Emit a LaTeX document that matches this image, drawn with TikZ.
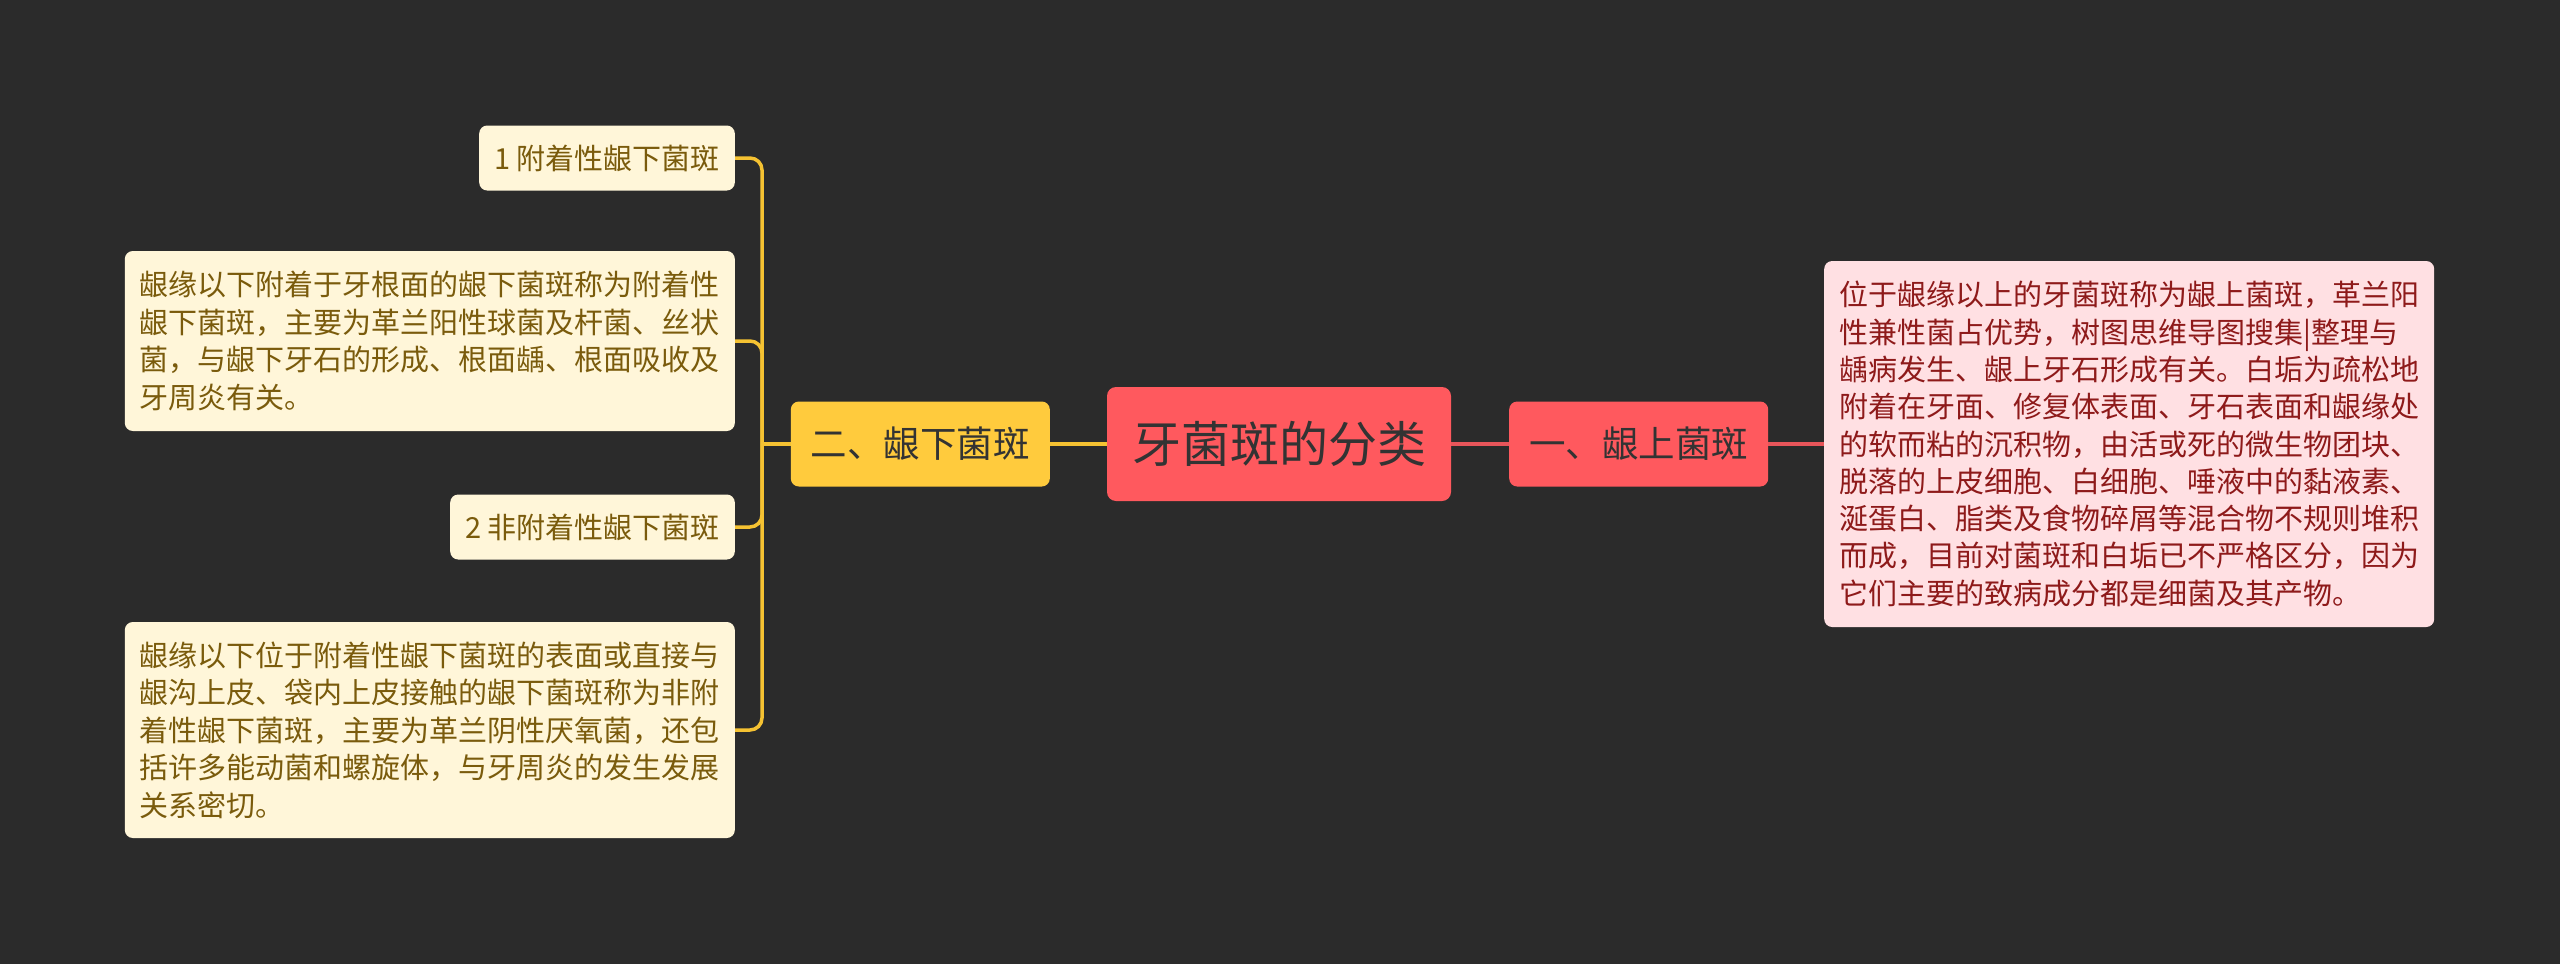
\documentclass[tikz,border=0pt]{standalone}
\usepackage{fontspec}
\setmainfont{Noto Sans CJK SC}
\definecolor{bg}{HTML}{2B2B2B}
\definecolor{rootc}{HTML}{FF595E}
\definecolor{yel}{HTML}{FFCB3D}
\definecolor{cream}{HTML}{FFF6D9}
\definecolor{pinkc}{HTML}{FFE0E3}
\definecolor{browntext}{HTML}{7A5B0C}
\definecolor{redtext}{HTML}{8E1A1A}
\definecolor{darktext}{HTML}{333333}
\definecolor{ylinec}{HTML}{F5C232}
\definecolor{rlinec}{HTML}{E8555A}
\begin{document}
\begin{tikzpicture}[x=1pt,y=-1pt,
  rootbox/.style={fill=rootc, rounded corners=9pt, text=darktext, font=\fontsize{49}{56}\selectfont, minimum height=114pt, inner xsep=25pt, inner ysep=0pt},
  ybranch/.style={fill=yel, rounded corners=8pt, text=darktext, font=\fontsize{36.5}{42}\selectfont, minimum height=85pt, inner xsep=20pt, inner ysep=0pt},
  rbranch/.style={fill=rootc, rounded corners=8pt, text=darktext, font=\fontsize{36.5}{42}\selectfont, minimum height=85pt, inner xsep=20pt, inner ysep=0pt},
  yleaf/.style={fill=cream, rounded corners=8pt, text=browntext, font=\fontsize{29}{37.5}\selectfont, align=left, inner xsep=15pt, inner ysep=0pt},
  rleaf/.style={fill=pinkc, rounded corners=8pt, text=redtext, font=\fontsize{29}{37.3}\selectfont, align=left, inner xsep=15pt, inner ysep=0pt},
  ylink/.style={draw=ylinec, line width=3.5pt},
  rlink/.style={draw=rlinec, line width=3.5pt}
]
\fill[bg] (0,0) rectangle (2560,964);
\useasboundingbox (0,0) rectangle (2560,964);

\node[rootbox] (root) at (1279,444) {牙菌斑的分类};
\node[ybranch, anchor=east] (b2) at (1050,444) {二、龈下菌斑};
\node[rbranch, anchor=west] (b1) at (1509,444) {一、龈上菌斑};

\node[yleaf, anchor=east, minimum height=65pt] (c1) at (735,158) {1 附着性龈下菌斑};
\node[yleaf, anchor=east, minimum height=180pt] (d1) at (735,341) {龈缘以下附着于牙根面的龈下菌斑称为附着性\\龈下菌斑，主要为革兰阳性球菌及杆菌、丝状\\菌，与龈下牙石的形成、根面龋、根面吸收及\\牙周炎有关。};
\node[yleaf, anchor=east, minimum height=65pt] (c2) at (735,527) {2 非附着性龈下菌斑};
\node[yleaf, anchor=east, minimum height=216pt] (d2) at (735,730) {龈缘以下位于附着性龈下菌斑的表面或直接与\\龈沟上皮、袋内上皮接触的龈下菌斑称为非附\\着性龈下菌斑，主要为革兰阴性厌氧菌，还包\\括许多能动菌和螺旋体，与牙周炎的发生发展\\关系密切。};

\node[rleaf, anchor=west, minimum height=366pt] (rd) at (1824,444) {位于龈缘以上的牙菌斑称为龈上菌斑，革兰阳\\性兼性菌占优势，树图思维导图搜集|整理与\\龋病发生、龈上牙石形成有关。白垢为疏松地\\附着在牙面、修复体表面、牙石表面和龈缘处\\的软而粘的沉积物，由活或死的微生物团块、\\脱落的上皮细胞、白细胞、唾液中的黏液素、\\涎蛋白、脂类及食物碎屑等混合物不规则堆积\\而成，目前对菌斑和白垢已不严格区分，因为\\它们主要的致病成分都是细菌及其产物。};

\coordinate (tr) at (762,444);
\draw[ylink] (root.west) -- (b2.east);
\draw[ylink] (b2.west) -- (tr);
\draw[ylink, rounded corners=12pt] (tr) |- (c1.east);
\draw[ylink, rounded corners=12pt] (tr) |- (d1.east);
\draw[ylink, rounded corners=12pt] (tr) |- (c2.east);
\draw[ylink, rounded corners=12pt] (tr) |- (d2.east);
\draw[rlink] (root.east) -- (b1.west);
\draw[rlink] (b1.east) -- (rd.west);
\end{tikzpicture}
\end{document}
